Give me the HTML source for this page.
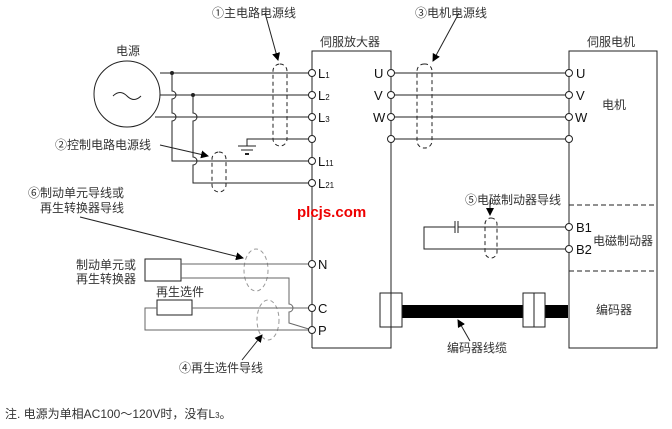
<!DOCTYPE html>
<html><head><meta charset="utf-8"><style>
html,body{margin:0;padding:0;background:#fff;}
svg{display:block;}
text{font-family:"Liberation Sans","Noto Sans CJK SC",sans-serif;font-size:12px;fill:#333;}
.t{font-size:13px;fill:#111;}
</style></head><body>
<svg width="672" height="429" viewBox="0 0 672 429" xmlns="http://www.w3.org/2000/svg">
<defs><marker id="a" markerWidth="8" markerHeight="8" refX="7" refY="4" orient="auto"><path d="M0,0 L8,4 L0,8z" fill="#000"/></marker></defs>
<g stroke="#222" stroke-width="1" fill="none">
<!-- boxes -->
<polyline points="312,348 312,51 391,51 391,348 312,348"/>
<rect x="569" y="51" width="88" height="297"/>
<line x1="569" y1="205" x2="657" y2="205" stroke-dasharray="5,3"/>
<line x1="569" y1="271" x2="657" y2="271" stroke-dasharray="5,3"/>
<!-- power -->
<circle cx="127" cy="94" r="33"/>
<path d="M113,96 q7,-7 14,0 q7,7 14,0"/>
<line x1="160" y1="73" x2="312" y2="73"/>
<line x1="160" y1="95" x2="312" y2="95"/>
<line x1="155" y1="117" x2="312" y2="117"/>
<path d="M172,73 V91 a4,4 0 0 1 0,8 V113 a4,4 0 0 1 0,8 V161 H312"/>
<path d="M193,95 V113 a4,4 0 0 1 0,8 V157 a4,4 0 0 1 0,8 V183 H312"/>
<path d="M312,139 H247 V146"/>
<line x1="238" y1="146" x2="256" y2="146"/>
<line x1="241" y1="150" x2="253" y2="150"/>
<line x1="245" y1="154" x2="249" y2="154" stroke-width="2"/>
<!-- motor lines -->
<line x1="391" y1="73" x2="569" y2="73"/>
<line x1="391" y1="95" x2="569" y2="95"/>
<line x1="391" y1="117" x2="569" y2="117"/>
<line x1="391" y1="139" x2="569" y2="139"/>
<!-- brake -->
<path d="M569,227 H458 M455,227 H424 V249 H569"/>
<line x1="455" y1="221" x2="455" y2="233"/><line x1="458" y1="221" x2="458" y2="233"/>
<!-- dashed ovals -->
<g stroke-dasharray="4,3">
<rect x="273" y="64" width="14" height="82" rx="7"/>
<rect x="212" y="152" width="14" height="40" rx="7"/>
<rect x="417" y="64" width="15" height="84" rx="7"/>
<rect x="485" y="218" width="12" height="40" rx="6"/>
</g>
<g stroke="#999" stroke-dasharray="4,3">
<ellipse cx="256" cy="270" rx="12" ry="21"/>
<ellipse cx="268" cy="320" rx="11" ry="20"/>
</g>
<!-- braking unit -->
<g stroke="#666">
<rect x="145" y="259" width="36" height="22" stroke="#222"/>
<line x1="181" y1="264" x2="312" y2="264"/>
<path d="M181,278 H289 V304 a4,4 0 0 1 0,8 V323 L312,330"/>
<rect x="157" y="300" width="35" height="15" stroke="#222"/>
<line x1="192" y1="308" x2="312" y2="308"/>
<path d="M157,308 H145 V330 H312"/>
</g>
<!-- encoder -->
<rect x="402" y="305" width="166" height="13" fill="#000" stroke="none"/>
<rect x="380" y="293" width="22" height="34" fill="#fff"/>
<line x1="391" y1="293" x2="391" y2="327"/>
<rect x="523" y="293" width="22" height="34" fill="#fff"/>
<line x1="534" y1="293" x2="534" y2="327"/>
<!-- arrows -->
<line x1="265" y1="13" x2="278" y2="60" marker-end="url(#a)"/>
<line x1="459" y1="13" x2="433" y2="61" marker-end="url(#a)"/>
<line x1="160" y1="145" x2="208" y2="156" marker-end="url(#a)"/>
<line x1="490" y1="201" x2="490" y2="215" marker-end="url(#a)"/>
<line x1="80" y1="217" x2="243" y2="258" marker-end="url(#a)"/>
<line x1="242" y1="360" x2="262" y2="335" marker-end="url(#a)"/>
<line x1="470" y1="341" x2="458" y2="320" marker-end="url(#a)"/>
</g>
<!-- terminals -->
<g fill="#fff" stroke="#222">
<circle cx="312" cy="73" r="3.5"/><circle cx="312" cy="95" r="3.5"/><circle cx="312" cy="117" r="3.5"/><circle cx="312" cy="139" r="3.5"/><circle cx="312" cy="161" r="3.5"/><circle cx="312" cy="183" r="3.5"/>
<circle cx="312" cy="264" r="3.5"/><circle cx="312" cy="308" r="3.5"/><circle cx="312" cy="330" r="3.5"/>
<circle cx="391" cy="73" r="3.5"/><circle cx="391" cy="95" r="3.5"/><circle cx="391" cy="117" r="3.5"/><circle cx="391" cy="139" r="3.5"/>
<circle cx="569" cy="73" r="3.5"/><circle cx="569" cy="95" r="3.5"/><circle cx="569" cy="117" r="3.5"/><circle cx="569" cy="139" r="3.5"/>
<circle cx="569" cy="227" r="3.5"/><circle cx="569" cy="249" r="3.5"/>
</g>
<g fill="#222"><circle cx="172" cy="73" r="2"/><circle cx="193" cy="95" r="2"/></g>
<!-- text -->
<text x="212" y="17">①主电路电源线</text>
<text x="415" y="17">③电机电源线</text>
<text x="320" y="46">伺服放大器</text>
<text x="587" y="46">伺服电机</text>
<text x="116" y="55">电源</text>
<text x="55" y="149">②控制电路电源线</text>
<text x="28" y="197">⑥制动单元导线或</text>
<text x="40" y="212">再生转换器导线</text>
<text x="76" y="269">制动单元或</text>
<text x="76" y="283">再生转换器</text>
<text x="156" y="296">再生选件</text>
<text x="179" y="372">④再生选件导线</text>
<text x="465" y="204">⑤电磁制动器导线</text>
<text x="602" y="109">电机</text>
<text x="593" y="245">电磁制动器</text>
<text x="596" y="314">编码器</text>
<text x="447" y="352">编码器线缆</text>
<text x="5" y="418">注. 电源为单相AC100～120V时，没有L<tspan font-size="8">3</tspan>。</text>
<text x="297" y="217" style="fill:#e00;font-weight:bold;font-size:15px">plcjs.com</text>
<g class="t">
<text class="t" x="318" y="78">L<tspan font-size="8">1</tspan></text>
<text class="t" x="318" y="100">L<tspan font-size="8">2</tspan></text>
<text class="t" x="318" y="122">L<tspan font-size="8">3</tspan></text>
<text class="t" x="318" y="166">L<tspan font-size="8">11</tspan></text>
<text class="t" x="318" y="188">L<tspan font-size="8">21</tspan></text>
<text class="t" x="318" y="269">N</text>
<text class="t" x="318" y="313">C</text>
<text class="t" x="318" y="335">P</text>
<text class="t" x="374" y="78">U</text>
<text class="t" x="374" y="100">V</text>
<text class="t" x="373" y="122">W</text>
<text class="t" x="576" y="78">U</text>
<text class="t" x="576" y="100">V</text>
<text class="t" x="575" y="122">W</text>
<text class="t" x="576" y="232">B1</text>
<text class="t" x="576" y="254">B2</text>
</g>
</svg>
</body></html>
